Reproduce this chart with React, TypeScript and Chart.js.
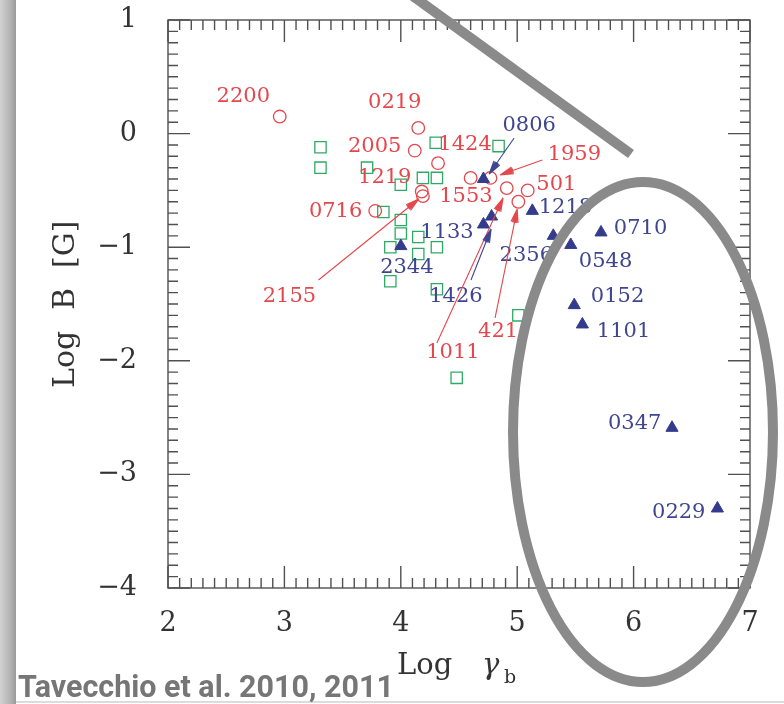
import { useEffect, useRef } from "react";
import { Chart, registerables } from "chart.js";

Chart.register(...registerables);

// Axis ranges and tick values
const X_MIN = 2;
const X_MAX = 7;
const Y_MIN = -4;
const Y_MAX = 1;
const MINOR_STEP = 0.1;

// Red circles: Log gamma_b / Log B
const circleX = [2.96, 4.15, 4.12, 4.32, 4.18, 4.19, 3.78, 4.60, 4.77, 4.91, 5.09, 5.01];
const circleY = [0.15, 0.05, -0.15, -0.26, -0.51, -0.55, -0.68, -0.39, -0.39, -0.48, -0.50, -0.60];

// Blue triangles
const triangleX = [4.71, 5.13, 4.78, 4.71, 4.00, 5.31, 5.46, 5.72, 5.49, 5.56, 6.33, 6.72];
const triangleY = [-0.40, -0.68, -0.73, -0.80, -0.99, -0.90, -0.98, -0.87, -1.51, -1.68, -2.59, -3.30];

// Green squares
const squareX = [3.31, 3.31, 3.71, 3.85, 4.30, 4.84, 4.19, 4.31, 4.00, 4.00, 4.00, 4.15, 3.91, 4.31, 4.15, 3.91, 4.31, 5.01, 4.48];
const squareY = [-0.12, -0.30, -0.30, -0.69, -0.08, -0.11, -0.39, -0.39, -0.45, -0.76, -0.88, -0.91, -1.00, -1.00, -1.06, -1.30, -1.37, -1.60, -2.15];

// Source names (label centres in data units)
const redNames = ["2200", "0219", "2005", "1424", "1219", "0716", "1553", "501", "1959", "2155", "1011", "421"];
const redNameX = [2.647, 3.948, 3.776, 4.552, 3.862, 3.44, 4.56, 5.336, 5.491, 3.043, 4.448, 4.836];
const redNameY = [0.322, 0.269, -0.118, -0.1, -0.391, -0.69, -0.558, -0.452, -0.18, -1.438, -1.931, -1.746];

const blueNames = ["0806", "1218", "1133", "2344", "1426", "2356", "0710", "0548", "0152", "1101", "0347", "0229"];
const blueNameX = [5.103, 5.414, 4.397, 4.052, 4.474, 5.078, 6.06, 5.759, 5.862, 5.914, 6.009, 6.388];
const blueNameY = [0.067, -0.655, -0.875, -1.183, -1.438, -1.077, -0.84, -1.13, -1.438, -1.746, -2.548, -3.34];

// Pointer arrows from a name to its marker
const arrowFromX = [4.974, 5.216, 3.293, 4.31, 4.81, 4.603];
const arrowFromY = [-0.039, -0.232, -1.289, -1.843, -1.623, -1.289];
const arrowToX = [4.759, 4.853, 4.155, 4.879, 5.0, 4.776];
const arrowToY = [-0.356, -0.364, -0.576, -0.567, -0.664, -0.84];
const arrowIsBlue = [true, false, false, false, false, true];

const RED = "#e4474c";
const BLUE = "#343b8c";
const BLUE_TEXT = "#3f4690";
const GREEN = "#2faa66";
const AXIS = "#505050";
const HIGHLIGHT = "#8a8a8a";
const SERIF = "'DejaVu Serif', serif";

const toPoints = (xs: number[], ys: number[]) => xs.map((x, i) => ({ x, y: ys[i] }));

const framePlugin = {
  id: "frame",
  beforeDatasetsDraw(chart: any) {
    const { ctx, chartArea: a, scales } = chart;
    const xs = scales.x;
    const ys = scales.y;
    ctx.save();
    ctx.strokeStyle = AXIS;
    ctx.lineWidth = 1.4;
    ctx.strokeRect(a.left, a.top, a.right - a.left, a.bottom - a.top);
    ctx.beginPath();
    const nx = Math.round((X_MAX - X_MIN) / MINOR_STEP);
    for (let i = 0; i <= nx; i++) {
      const v = X_MIN + i * MINOR_STEP;
      const p = xs.getPixelForValue(v);
      const len = i % 10 === 0 ? 22 : 10;
      ctx.moveTo(p, a.bottom);
      ctx.lineTo(p, a.bottom - len);
      ctx.moveTo(p, a.top);
      ctx.lineTo(p, a.top + len);
    }
    const ny = Math.round((Y_MAX - Y_MIN) / MINOR_STEP);
    for (let i = 0; i <= ny; i++) {
      const v = Y_MIN + i * MINOR_STEP;
      const p = ys.getPixelForValue(v);
      const len = i % 10 === 0 ? 22 : 10;
      ctx.moveTo(a.left, p);
      ctx.lineTo(a.left + len, p);
      ctx.moveTo(a.right, p);
      ctx.lineTo(a.right - len, p);
    }
    ctx.stroke();
    ctx.restore();
  },
};

const drawArrow = (ctx: CanvasRenderingContext2D, x0: number, y0: number, x1: number, y1: number, color: string) => {
  const ang = Math.atan2(y1 - y0, x1 - x0);
  ctx.save();
  ctx.strokeStyle = color;
  ctx.lineWidth = 1.1;
  ctx.beginPath();
  ctx.moveTo(x0, y0);
  ctx.lineTo(x1, y1);
  const head = 14;
  for (const d of [-0.26, -0.16, -0.07, 0.07, 0.16, 0.26]) {
    ctx.moveTo(x1, y1);
    ctx.lineTo(x1 - head * Math.cos(ang + d), y1 - head * Math.sin(ang + d));
  }
  ctx.stroke();
  ctx.restore();
};

const annotationPlugin = {
  id: "annotations",
  afterDatasetsDraw(chart: any) {
    const { ctx, scales } = chart;
    const xs = scales.x;
    const ys = scales.y;
    ctx.save();
    ctx.font = `21px ${SERIF}`;
    ctx.textAlign = "center";
    ctx.textBaseline = "middle";
    ctx.fillStyle = RED;
    redNames.forEach((t, i) => ctx.fillText(t, xs.getPixelForValue(redNameX[i]), ys.getPixelForValue(redNameY[i])));
    ctx.fillStyle = BLUE_TEXT;
    blueNames.forEach((t, i) => ctx.fillText(t, xs.getPixelForValue(blueNameX[i]), ys.getPixelForValue(blueNameY[i])));
    ctx.restore();
    arrowFromX.forEach((_, i) => {
      drawArrow(
        ctx,
        xs.getPixelForValue(arrowFromX[i]),
        ys.getPixelForValue(arrowFromY[i]),
        xs.getPixelForValue(arrowToX[i]),
        ys.getPixelForValue(arrowToY[i]),
        arrowIsBlue[i] ? BLUE_TEXT : RED
      );
    });
  },
  afterDraw(chart: any) {
    const { ctx } = chart;
    ctx.save();
    // axis titles
    ctx.fillStyle = "#333";
    ctx.textBaseline = "alphabetic";
    ctx.textAlign = "left";
    ctx.font = `29px ${SERIF}`;
    ctx.fillText("Log", 397, 674);
    ctx.font = `italic 29px ${SERIF}`;
    ctx.fillText("\u03b3", 482, 674);
    ctx.font = `19px ${SERIF}`;
    ctx.fillText("b", 504, 683);

    ctx.save();
    ctx.translate(74, 388);
    ctx.rotate(-Math.PI / 2);
    ctx.font = `30px ${SERIF}`;
    ctx.fillText("Log", 0, 0);
    ctx.fillText("B", 78, 0);
    ctx.fillText("[G]", 120, 0);
    ctx.restore();

    // highlight strokes
    ctx.strokeStyle = HIGHLIGHT;
    ctx.lineWidth = 10;
    ctx.beginPath();
    ctx.moveTo(410, -6);
    ctx.lineTo(631, 154);
    ctx.stroke();
    ctx.beginPath();
    ctx.ellipse(643, 432, 130, 250, 0, 0, Math.PI * 2);
    ctx.stroke();

    // side band and base rule
    const g = ctx.createLinearGradient(0, 0, 16, 0);
    g.addColorStop(0, "#d2d2d2");
    g.addColorStop(0.7, "#b0b0b0");
    g.addColorStop(1, "#999");
    ctx.fillStyle = g;
    ctx.fillRect(0, 0, 16, 704);
    ctx.fillStyle = "#dcdcdc";
    ctx.fillRect(16, 701, 768, 2);

    // citation
    ctx.fillStyle = "#767676";
    ctx.font = "bold 31px Roboto, 'Noto Sans', sans-serif";
    ctx.textAlign = "left";
    ctx.fillText("Tavecchio et al. 2010, 2011", 18, 697, 376);
    ctx.restore();
  },
};

export default function App() {
  const canvasRef = useRef<HTMLCanvasElement | null>(null);

  useEffect(() => {
    const canvas = canvasRef.current;
    if (!canvas) return;
    const chart = new Chart(canvas, {
      type: "scatter",
      data: {
        datasets: [
          {
            data: toPoints(triangleX, triangleY),
            pointStyle: "triangle",
            pointRadius: 7,
            backgroundColor: BLUE,
            borderColor: BLUE,
            borderWidth: 1,
          },
          {
            data: toPoints(circleX, circleY),
            pointStyle: "circle",
            pointRadius: 6.3,
            backgroundColor: "rgba(0,0,0,0)",
            borderColor: RED,
            borderWidth: 1.3,
          },
          {
            data: toPoints(squareX, squareY),
            pointStyle: "rect",
            pointRadius: 8,
            backgroundColor: "rgba(0,0,0,0)",
            borderColor: GREEN,
            borderWidth: 1.3,
          },
        ],
      },
      options: {
        responsive: false,
        animation: false,
        events: [],
        layout: { padding: { left: 0, top: 20, right: 34, bottom: 0 } },
        plugins: { legend: { display: false }, tooltip: { enabled: false } },
        scales: {
          x: {
            type: "linear",
            min: X_MIN,
            max: X_MAX,
            grid: { display: false },
            border: { display: false },
            ticks: { stepSize: 1, color: "#333", font: { family: SERIF, size: 27 }, padding: 12 },
            afterFit: (s: any) => {
              s.height = 116;
              s.paddingLeft = 0;
              s.paddingRight = 0;
            },
          },
          y: {
            type: "linear",
            min: Y_MIN,
            max: Y_MAX,
            grid: { display: false },
            border: { display: false },
            ticks: {
              stepSize: 1,
              color: "#333",
              font: { family: SERIF, size: 27 },
              padding: 23,
              callback: (v: any) => (Number(v) < 0 ? "\u2212" + Math.abs(Number(v)) : String(v)),
            },
            afterFit: (s: any) => {
              s.width = 168;
              s.paddingTop = 0;
              s.paddingBottom = 0;
            },
          },
        },
      },
      plugins: [framePlugin, annotationPlugin],
    });
    return () => chart.destroy();
  }, []);

  return (
    <div style={{ position: "absolute", left: 0, top: 0, width: 784, height: 704, background: "#fff" }}>
      <canvas ref={canvasRef} width={784} height={704} style={{ width: 784, height: 704, display: "block" }} />
    </div>
  );
}
